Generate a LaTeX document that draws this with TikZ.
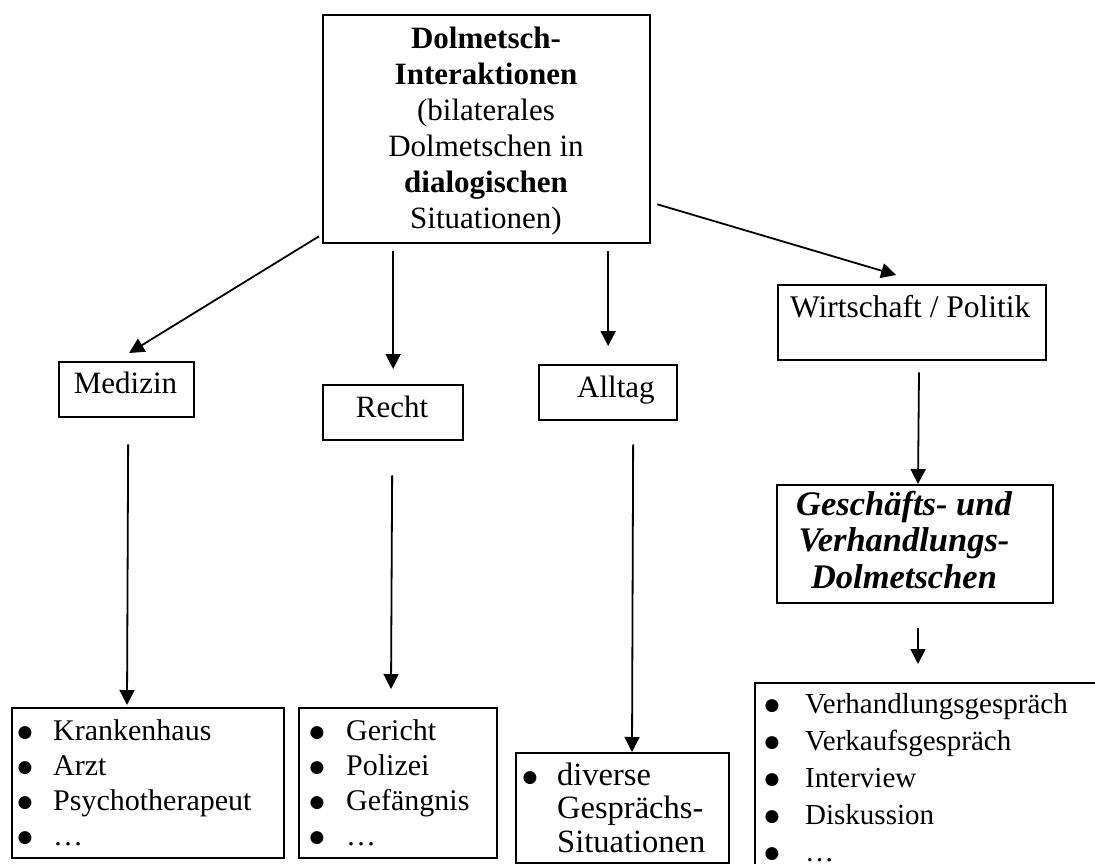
\documentclass[tikz,border=0pt]{standalone}
\usepackage{fontspec}
\setmainfont{Liberation Serif}
\newfontfamily\symfont{DejaVu Sans}
\usetikzlibrary{arrows.meta,calc}

% list bullet: a solid circle sitting at mid x-height
\newcommand{\lbul}{{\symfont\fontsize{17}{17}\selectfont\raisebox{2.2pt}{●}}}

\begin{document}
\begin{tikzpicture}[x=1pt,y=-1pt,
  frame/.style={draw, line width=2.3pt, inner sep=0pt, anchor=north west},
  arr/.style={line width=1.8pt, -{Triangle[length=15pt,width=15pt]}},
  txt/.style={inner sep=0pt, font=\fontsize{31}{36}\selectfont},
  listtxt/.style={inner sep=0pt, font=\fontsize{30}{35}\selectfont, align=left, anchor=base west},
  bul/.style={inner sep=0pt, font=\fontsize{30}{35}\selectfont, align=center, anchor=base},
]
\useasboundingbox (0,0) rectangle (1095,864);

% frames
\node[frame, minimum width=327pt, minimum height=228pt] (top)    at (322,14)  {};
\node[frame, minimum width=135pt, minimum height=55pt]  (med)    at (58,361)  {};
\node[frame, minimum width=140pt, minimum height=55pt]  (recht)  at (322,384) {};
\node[frame, minimum width=138pt, minimum height=55pt]  (alltag) at (538,364) {};
\node[frame, minimum width=268pt, minimum height=75pt]  (wirt)   at (777,284) {};
\node[frame, minimum width=276pt, minimum height=118pt] (gesch)  at (776,484) {};
\node[frame, minimum width=272pt, minimum height=150pt] (krank)  at (11,707)  {};
\node[frame, minimum width=198pt, minimum height=150pt] (ger)    at (298,707) {};
\node[frame, minimum width=213pt, minimum height=110pt] (div)    at (515,752) {};
\node[frame, minimum width=380pt, minimum height=220pt] (verh)   at (754,682) {};

% texts (multi-line nodes are placed by the baseline of their last line)
\node[txt, anchor=base, align=center] (toptxt) at (486,228)
  {\textbf{Dolmetsch-}\\\textbf{Interaktionen}\\(bilaterales\\Dolmetschen in\\\textbf{dialogischen}\\Situationen)};
\node[txt, anchor=base] (medtxt) at (125.5,393) {Medizin};
\node[txt, anchor=base] (rechttxt) at (392,417) {Recht};
\node[txt, anchor=base west] (alltagtxt) at (577,397) {Alltag};
\node[txt, anchor=base west, font=\fontsize{31.5}{36}\selectfont] (wirttxt) at (790,317) {Wirtschaft / Politik};
\node[txt, anchor=base, align=center, font=\fontsize{34.5}{36.5}\selectfont\bfseries\itshape] (geschtxt) at (904,588)
  {Geschäfts- und\\Verhandlungs-\\Dolmetschen};

\node[bul] (krankb) at (25,845) {\lbul\\\lbul\\\lbul\\\lbul};
\node[listtxt] (krankt) at (53,845) {Krankenhaus\\Arzt\\Psychotherapeut\\…};

\node[bul] (gerb) at (317,845) {\lbul\\\lbul\\\lbul\\\lbul};
\node[listtxt] (gert) at (346,845) {Gericht\\Polizei\\Gefängnis\\…};

\node[bul] (divb) at (530,785) {\lbul};
\node[listtxt, font=\fontsize{32.5}{33.5}\selectfont] (divt) at (557,852) {diverse\\Gesprächs-\\Situationen};

\node[bul, font=\fontsize{29}{37}\selectfont] (verhb) at (772,861) {\lbul\\\lbul\\\lbul\\\lbul\\\lbul};
\node[listtxt, font=\fontsize{29}{37}\selectfont] (verht) at (805,861)
  {Verhandlungsgespräch\\Verkaufsgespräch\\Interview\\Diskussion\\…};

% connectors
\draw[arr] ($(top.south west)+(-3,-8)$) -- ($(med.north)+(2.5,-8)$);
\draw[arr] ($(top.south -| recht.north)+(0,7)$) -- ($(recht.north)+(0,-15)$);
\draw[arr] ($(top.south -| alltag.north)+(0,7)$) -- ($(alltag.north)+(0,-18)$);
\draw[arr] ($(top.south east)+(6,-40)$) -- ($(wirt.north)+(-16,-9)$);
\draw[arr] ($(med.south)+(1.5,26)$) -- ($(krank.north west)+(116,-2)$);
\draw[arr] ($(recht.south)+(-1,34)$) -- ($(ger.north west)+(93,-18)$);
\draw[arr] ($(alltag.south)+(25,23)$) -- ($(div.north west)+(117,0)$);
\draw[arr] ($(wirt.south west)+(142,11)$) -- ($(gesch.north west)+(142,0)$);
\draw[arr] ($(gesch.south west)+(142,24)$) -- ($(verh.north west)+(164,-18)$);
\end{tikzpicture}
\end{document}
